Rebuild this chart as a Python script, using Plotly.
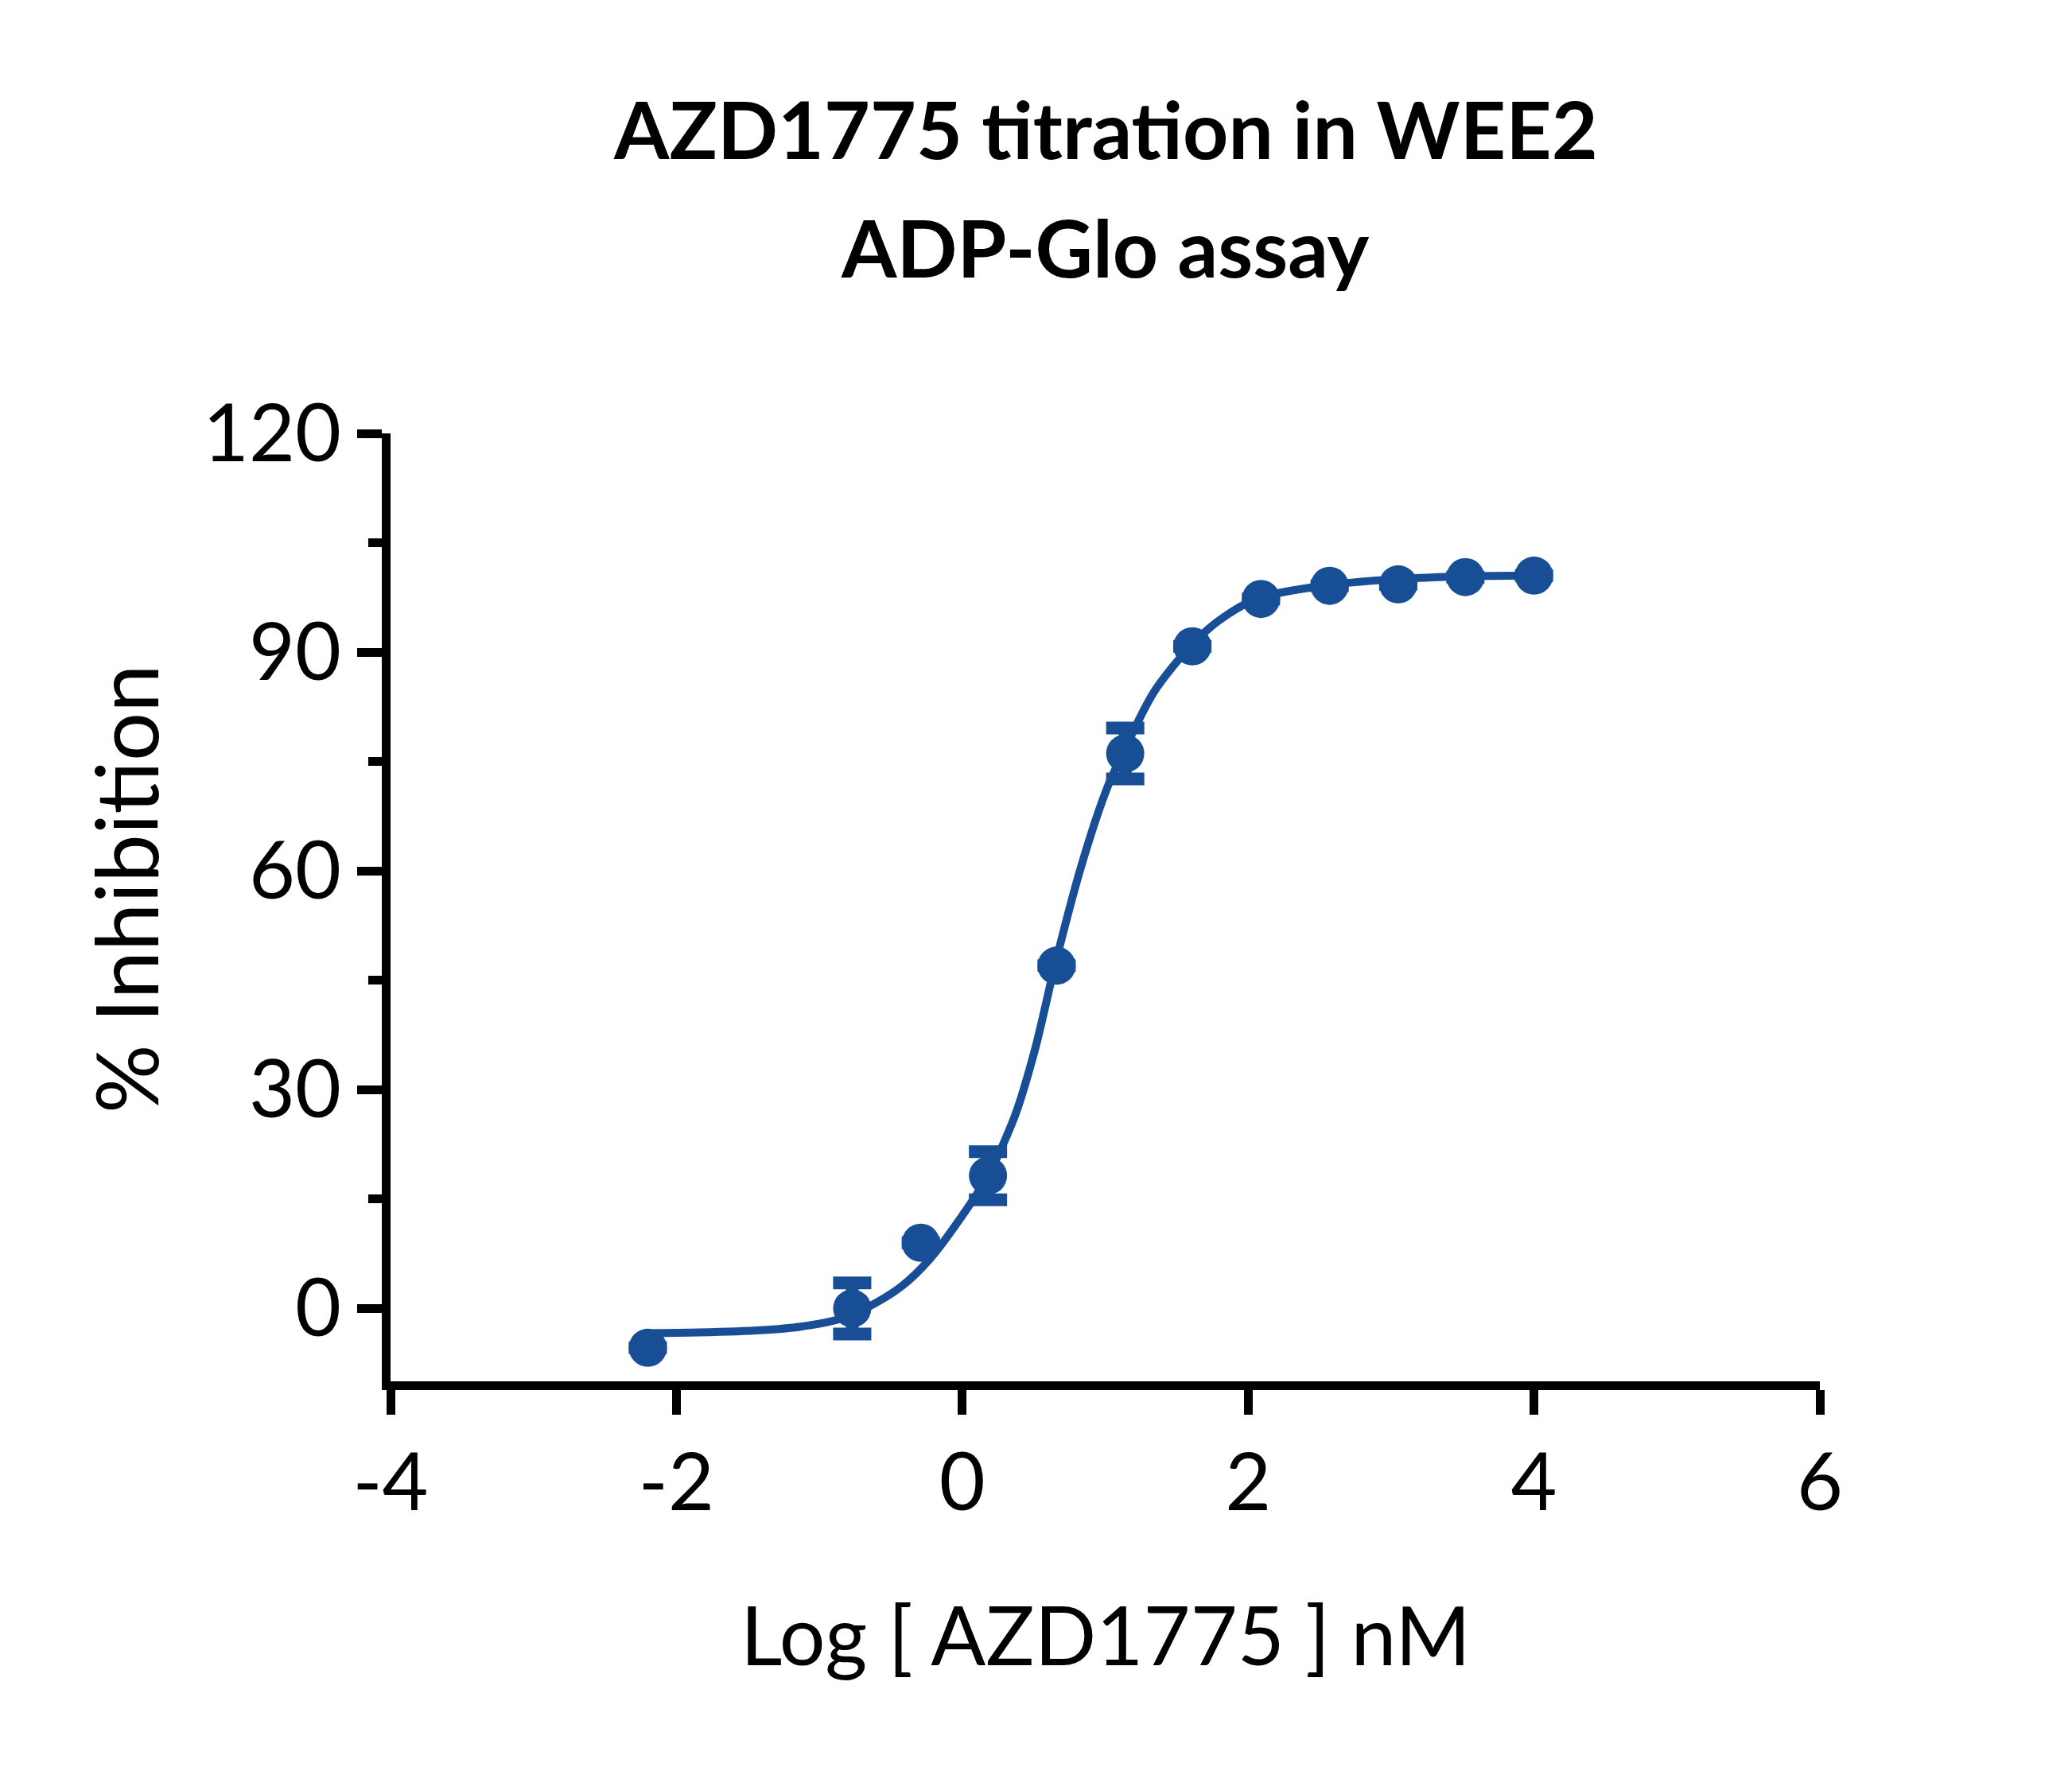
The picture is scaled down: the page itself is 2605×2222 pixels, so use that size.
import plotly.graph_objects as go

# data
log_conc = [-2.20, -0.77, -0.29, 0.18, 0.66, 1.14, 1.61, 2.09, 2.57, 3.05, 3.52, 4.00]
pct_inhibition = [-5.4, 0.0, 9.0, 18.2, 47.0, 76.1, 90.8, 97.3, 99.1, 99.3, 100.3, 100.5]
sem = [0, 3.5, 0, 3.3, 0, 3.5, 0, 0, 0, 0, 0, 0]

# fitted curve
fit_x = [-2.22, -1.84, -1.41, -1.13, -0.85, -0.62, -0.42, -0.23, -0.04, 0.18, 0.37, 0.51,
         0.65, 0.83, 1.01, 1.12, 1.34, 1.60, 1.80, 2.07, 2.56, 3.03, 3.51, 4.00]
fit_y = [-3.4, -3.3, -3.0, -2.5, -1.4, 0.6, 3.1, 6.7, 11.6, 18.2, 26.5, 35.6,
         47.2, 60.5, 71.2, 76.0, 84.5, 90.9, 94.4, 97.4, 99.2, 100.0, 100.4, 100.5]

x_ticks = [-4, -2, 0, 2, 4, 6]
x_tick_labels = ['-4', '-2', '0', '2', '4', '6']
y_ticks = [0, 30, 60, 90, 120]

blue = '#184E95'
font_family = 'Lato, "Source Sans Pro", "Noto Sans", sans-serif'

fig = go.Figure()

fig.add_trace(go.Scatter(x=fit_x, y=fit_y, mode='lines',
                         line=dict(color=blue, width=10, shape='spline', smoothing=0.8),
                         hoverinfo='skip'))

fig.add_trace(go.Scatter(x=log_conc, y=pct_inhibition, mode='markers',
                         marker=dict(color=blue, size=48),
                         error_y=dict(type='data', array=sem, visible=True,
                                      color=blue, thickness=16, width=24)))

fig.update_layout(
    width=2605, height=2222,
    margin=dict(l=483, r=325, t=537, b=493),
    paper_bgcolor='white', plot_bgcolor='white',
    showlegend=False,
    font=dict(family=font_family, color='black', size=100),
    xaxis=dict(range=[-4, 6], tickvals=x_ticks, ticktext=x_tick_labels,
               showgrid=False, zeroline=False,
               showline=True, linecolor='black', linewidth=11,
               ticks='outside', ticklen=31, tickwidth=11, tickcolor='black',
               tickfont=dict(size=100, family=font_family)),
    yaxis=dict(range=[-10, 120], tickvals=y_ticks,
               showgrid=False, zeroline=False,
               showline=True, linecolor='black', linewidth=11,
               ticks='outside', ticklen=31, tickwidth=11, tickcolor='black',
               tickfont=dict(size=100, family=font_family),
               minor=dict(tick0=15, dtick=30, ticks='outside', ticklen=17,
                          tickwidth=11, tickcolor='black', showgrid=False)),
)

# title lines and axis titles
fig.add_annotation(text='<b>AZD1775 titration in WEE2</b>', xref='paper', yref='paper',
                   x=0.5, y=1.322, xanchor='center', yanchor='middle', showarrow=False,
                   font=dict(size=100, family=font_family))
fig.add_annotation(text='<b>ADP-Glo assay</b>', xref='paper', yref='paper',
                   x=0.5, y=1.197, xanchor='center', yanchor='middle', showarrow=False,
                   font=dict(size=100, family=font_family))
fig.add_annotation(text='Log [ AZD1775 ] nM', xref='paper', yref='paper',
                   x=0.5, y=-0.266, xanchor='center', yanchor='middle', showarrow=False,
                   font=dict(size=102, family=font_family))
fig.add_annotation(text='% Inhibition', xref='paper', yref='paper', textangle=-90,
                   x=-0.186, y=0.52, xanchor='center', yanchor='middle', showarrow=False,
                   font=dict(size=108, family=font_family))

fig.write_html("out.html")
